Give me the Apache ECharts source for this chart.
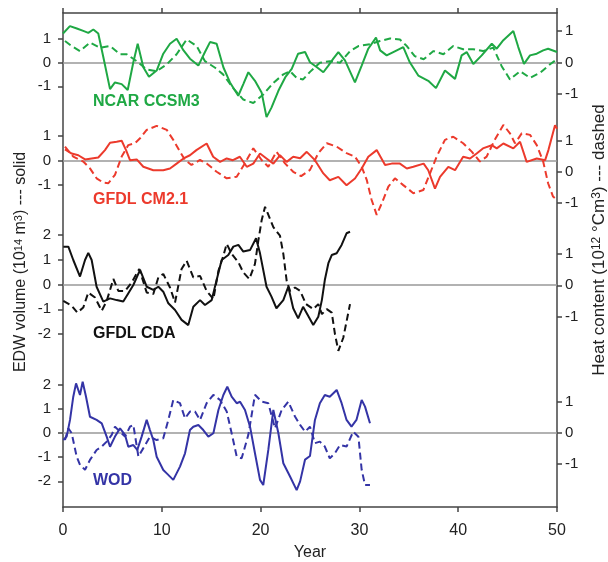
<!DOCTYPE html>
<html>
<head>
<meta charset="utf-8">
<script src="https://cdn.jsdelivr.net/npm/echarts@6/dist/echarts.min.js"></script>
<style>
  html, body { margin: 0; padding: 0; background: #fff; }
  #chart { width: 608px; height: 562px; }
</style>
</head>
<body>
<div id="chart"></div>
<script>
// year ticks on the shared x axis
const yearTicks = [0, 10, 20, 30, 40, 50];

// EDW volume (solid, left axes) and heat content (dashed, right axes): [year, value]
const ncarSolid = [[0,1.22],[0.7,1.53],[1.4,1.43],[2.05,1.33],[2.56,1.25],[3.07,1.39],[3.57,1.22],[4.08,0.23],[4.76,-1.12],[5.26,-0.84],[5.94,-0.91],[6.55,-1.16],[7.12,0.01],[7.56,0.79],[8.13,-0.2],[8.7,-0.6],[9.48,-0.34],[10.15,0.37],[10.83,0.79],[11.5,1.0],[12.2,0.51],[12.85,0.16],[13.7,-0.13],[14.37,0.44],[14.88,0.86],[15.55,0.79],[16.23,-0.2],[16.9,-0.84],[17.74,-1.4],[18.25,-0.91],[18.76,-0.41],[19.43,-0.77],[20.1,-1.26],[20.6,-2.3],[21.1,-1.9],[21.8,-1.19],[22.5,-0.62],[23.15,-0.27],[23.8,0.37],[24.5,0.44],[25.0,0.01],[25.7,-0.2],[26.35,-0.41],[26.86,-0.13],[27.36,0.16],[27.87,0.44],[28.54,0.09],[29.55,-0.84],[30.23,-0.13],[30.9,0.58],[31.68,1.05],[32.1,0.51],[32.76,0.3],[33.43,0.44],[34.44,0.65],[35.1,0.01],[35.96,-0.55],[36.97,-0.77],[37.75,-1.08],[38.66,-0.34],[39.68,-0.69],[40.35,0.3],[40.86,0.44],[41.53,-0.06],[42.38,0.3],[43.4,0.79],[43.9,0.58],[44.57,0.94],[45.58,1.33],[46.08,0.65],[46.66,-0.06],[47.27,0.3],[47.95,0.37],[48.6,0.51],[49.1,0.58],[50,0.44]];
const ncarDashed = [[0.2,0.68],[0.88,0.52],[1.72,0.36],[2.73,0.63],[3.74,0.47],[4.76,0.52],[5.77,0.26],[6.45,0.26],[7.46,0.04],[8.47,-0.22],[9.48,-0.28],[10.5,-0.06],[11.5,0.26],[12.52,0.73],[13.53,0.52],[14.37,0.04],[15.4,-0.17],[16.2,-0.38],[17.2,-0.81],[18.25,-1.18],[19.26,-1.29],[20.27,-1.02],[21.29,-0.65],[22.3,-0.38],[22.98,-0.28],[23.65,-0.49],[24.3,-0.54],[25.0,-0.3],[26.0,-0.01],[27.0,0.04],[28.04,-0.01],[29.05,0.36],[29.9,0.52],[31.07,0.58],[32.08,0.68],[33.1,0.76],[34.1,0.73],[34.8,0.52],[35.6,0.2],[36.5,0.1],[37.5,0.36],[38.5,0.26],[39.5,0.52],[40.5,0.42],[41.5,0.42],[42.5,0.36],[43.55,0.47],[44.4,-0.12],[45.24,-0.54],[46.26,-0.28],[47.27,-0.49],[48.28,-0.33],[49.3,-0.06],[50,0.1]];

const cm21Solid = [[0.2,0.46],[0.88,0.29],[1.55,0.22],[2.23,0.05],[2.9,0.09],[3.57,0.13],[4.25,0.43],[4.76,0.73],[5.43,0.77],[5.94,0.81],[6.38,0.43],[6.78,0.02],[7.46,0.05],[8.13,-0.25],[9.14,-0.39],[10.15,-0.39],[10.83,-0.32],[11.5,-0.12],[12.2,0.09],[12.85,0.22],[13.5,0.43],[14.54,0.7],[15.2,0.16],[15.9,-0.05],[16.57,0.09],[17.2,0.02],[17.9,0.16],[18.6,-0.25],[19.26,-0.12],[19.94,0.29],[20.6,0.09],[21.29,-0.12],[21.96,0.22],[22.64,-0.05],[23.3,0.16],[24.0,0.1],[24.67,0.36],[25.5,0.02],[26.35,-0.52],[27.0,-0.8],[27.87,-0.66],[28.7,-1.0],[29.55,-0.73],[30.23,-0.32],[30.9,0.16],[31.75,0.43],[32.6,-0.18],[33.27,-0.12],[34.1,-0.12],[34.8,-0.32],[35.46,-0.25],[36.5,-0.12],[36.97,-0.39],[37.65,-1.14],[38.16,-0.66],[39.0,-0.25],[39.68,-0.39],[40.5,0.16],[41.2,0.09],[41.87,0.29],[42.5,0.5],[43.4,0.63],[43.9,0.5],[44.57,0.7],[45.58,0.5],[46.26,0.77],[46.93,-0.05],[47.95,0.09],[48.8,0.02],[49.13,0.43],[49.8,1.44],[50,1.3]];
const cm21Dashed = [[0.2,0.8],[1.04,0.48],[2.05,0.32],[2.73,0.1],[3.4,-0.22],[4.08,-0.36],[4.59,-0.38],[5.26,-0.11],[5.94,0.48],[6.61,0.85],[7.29,0.91],[7.8,1.07],[8.47,1.34],[9.48,1.47],[10.5,1.34],[11.16,1.02],[11.84,0.64],[12.35,0.37],[13.0,0.21],[13.87,0.37],[14.54,0.26],[15.55,-0.01],[16.57,-0.22],[17.58,-0.17],[18.4,0.26],[19.26,0.75],[20.1,0.37],[20.78,0.15],[21.6,0.64],[22.47,0.26],[23.3,-0.01],[24.1,-0.15],[25.0,0.05],[25.84,0.59],[26.7,0.91],[27.7,0.8],[28.7,0.59],[29.55,0.48],[30.23,0.15],[30.74,-0.27],[31.24,-0.92],[31.75,-1.4],[32.26,-1.03],[32.93,-0.49],[33.6,-0.22],[34.44,-0.44],[35.46,-0.7],[36.47,-0.6],[37.15,-0.06],[37.82,0.48],[38.66,1.02],[39.5,1.12],[40.5,0.91],[41.37,0.64],[42.2,0.32],[42.88,0.48],[43.7,1.02],[44.57,1.5],[45.24,1.23],[45.75,0.91],[46.43,1.23],[47.27,1.18],[47.95,0.85],[48.6,0.32],[49.1,-0.38],[49.6,-0.81],[50,-0.92]];

const cdaSolid = [[0.03,1.53],[0.54,1.53],[1.04,0.99],[1.72,0.32],[2.23,0.99],[2.56,1.28],[2.9,0.99],[3.4,-0.09],[4.08,-0.69],[4.76,-0.56],[5.43,-0.63],[6.1,-0.69],[6.6,-0.36],[7.12,-0.02],[7.8,0.59],[8.47,-0.09],[9.14,-0.22],[9.65,-0.09],[10.15,-0.29],[10.66,-0.76],[11.34,-1.03],[12.0,-1.43],[12.68,-1.64],[13.19,-0.9],[13.87,-0.63],[14.37,-0.83],[15.05,-0.63],[15.55,0.18],[16.06,0.99],[16.73,1.19],[17.24,1.53],[17.75,1.6],[18.25,1.33],[18.93,1.39],[19.54,1.87],[19.94,1.26],[20.6,-0.09],[21.1,-0.49],[21.6,-0.96],[22.3,-0.63],[22.8,-0.09],[23.3,-0.96],[23.8,-1.37],[24.3,-0.9],[24.67,-1.16],[25.33,-1.64],[25.84,-1.3],[26.2,-0.63],[26.5,0.18],[26.86,0.86],[27.2,1.19],[27.7,1.26],[28.2,1.6],[28.7,2.07],[29.05,2.13]];
const cdaDashed = [[0.03,-0.5],[0.88,-0.65],[1.45,-0.87],[2.05,-0.71],[2.56,-0.23],[3.24,-0.39],[3.92,-0.81],[4.42,-0.5],[5.1,0.2],[5.6,-0.18],[6.28,-0.18],[6.95,0.09],[7.72,0.52],[8.47,-0.23],[9.14,-0.28],[9.65,0.25],[10.15,0.36],[10.83,-0.07],[11.34,-0.55],[12.0,0.52],[12.52,0.78],[13.19,0.25],[13.87,0.3],[14.54,-0.18],[15.22,-0.44],[15.73,0.46],[16.23,0.94],[16.57,1.32],[17.07,1.0],[17.75,0.73],[18.25,0.41],[18.86,0.2],[19.43,0.68],[19.77,1.42],[20.1,2.06],[20.45,2.5],[21.29,1.85],[21.96,1.58],[22.3,1.0],[22.64,0.14],[22.98,-0.18],[23.48,-0.07],[24.0,-0.18],[24.6,-0.6],[25.33,-0.76],[25.84,-0.6],[26.2,-0.92],[26.7,-0.76],[27.2,-0.87],[27.53,-1.56],[27.87,-2.09],[28.37,-1.67],[29.05,-0.6]];

const wodSolid = [[0.03,-0.29],[0.37,-0.15],[0.71,0.54],[1.04,1.5],[1.32,2.05],[1.72,1.57],[1.99,2.12],[2.33,1.5],[2.73,0.67],[3.4,0.54],[3.92,0.4],[4.42,-0.15],[4.76,-0.57],[5.26,-0.15],[5.77,0.19],[6.28,-0.08],[6.61,-0.57],[7.12,-0.5],[7.52,-0.7],[7.96,-0.15],[8.47,0.54],[8.8,0.12],[9.14,-0.29],[9.48,-0.98],[10.15,-1.53],[10.5,-1.67],[11.16,-1.94],[11.84,-1.39],[12.35,-0.84],[12.85,0.12],[13.19,0.26],[13.7,0.33],[14.2,0.12],[14.71,-0.15],[15.22,-0.01],[15.73,0.95],[16.23,1.57],[16.63,1.91],[17.07,1.5],[17.58,1.23],[17.92,1.29],[18.42,0.95],[18.93,0.26],[19.43,-0.84],[19.94,-1.94],[20.27,-2.15],[20.78,-0.7],[21.29,0.95],[21.8,-0.01],[22.3,-1.25],[22.98,-1.8],[23.65,-2.36],[24.0,-2.0],[24.5,-1.1],[25.0,-0.95],[25.5,0.54],[26.0,1.23],[26.5,1.57],[27.0,1.5],[27.7,1.78],[28.2,1.23],[28.7,0.54],[29.2,0.26],[29.7,0.54],[30.23,1.36],[30.57,1.09],[31.07,0.4]];
const wodDashed = [[0.2,-0.23],[0.54,0.15],[0.88,-0.01],[1.38,-0.76],[1.72,-1.03],[2.23,-1.19],[2.73,-0.87],[3.4,-0.55],[3.92,-0.44],[4.42,-0.28],[4.93,-0.06],[5.26,0.2],[5.77,0.04],[6.28,-0.12],[6.78,0.2],[7.12,0.26],[7.63,-0.76],[8.13,-0.49],[8.8,-0.12],[9.48,-0.23],[10.15,-0.17],[10.66,0.42],[11.16,1.06],[11.84,0.96],[12.35,0.47],[12.85,0.69],[13.36,0.69],[13.87,0.42],[14.54,0.96],[15.22,1.23],[15.9,1.06],[16.57,0.69],[17.07,-0.01],[17.58,-0.76],[18.08,-0.82],[18.76,-0.06],[19.43,1.23],[20.1,1.01],[20.78,0.96],[21.46,0.15],[22.13,0.74],[22.8,1.01],[23.48,0.53],[24.0,0.26],[24.5,0.04],[25.0,0.2],[25.5,-0.33],[26.0,-0.28],[26.5,-0.44],[27.0,-0.82],[27.53,-0.65],[28.04,-0.39],[28.7,-0.44],[29.37,0.04],[29.9,-0.12],[30.23,-1.19],[30.57,-1.68],[31.07,-1.68]];

// tick labels of each panel
const ticks1 = [-1, 0, 1];
const ticks2 = [-2, -1, 0, 1, 2];

const FONT = "'Liberation Sans', Arial, Helvetica, sans-serif";
const AXIS_COLOR = "#444";
const GRID = { left: 63, right: 51, top: 13, bottom: 55, outerBoundsMode: "none", containLabel: false };

// layout: axis ranges put each panel's zero where it sits in the figure
const panels = [
  { name: "NCAR CCSM3", color: "#1fa844", solid: ncarSolid, dashed: ncarDashed,
    left: [-18.72, 2.085], right: [-14.13, 1.571], leftTicks: ticks1, rightTicks: ticks1, labelY: 102 },
  { name: "GFDL CM2.1", color: "#ec3a2c", solid: cm21Solid, dashed: cm21Dashed,
    left: [-14.12, 6.02], right: [-10.82, 5.11], leftTicks: ticks1, rightTicks: ticks1, labelY: 200 },
  { name: "GFDL CDA", color: "#111111", solid: cdaSolid, dashed: cdaDashed,
    left: [-8.99, 10.97], right: [-7.06, 8.67], leftTicks: ticks2, rightTicks: ticks1, labelY: 334 },
  { name: "WOD", color: "#3434a6", solid: wodSolid, dashed: wodDashed,
    left: [-3.06, 17.36], right: [-2.39, 13.55], leftTicks: ticks2, rightTicks: ticks1, labelY: 481 },
];

function panelYAxis(gridIndex, position, range, values) {
  return {
    type: "value",
    gridIndex,
    position,
    min: range[0],
    max: range[1],
    axisLine: { show: false, onZero: false },
    axisTick: {
      show: true,
      inside: false,
      length: 5,
      customValues: values,
      lineStyle: { color: AXIS_COLOR, width: 1.5 },
    },
    axisLabel: {
      customValues: values,
      margin: position === "left" ? 12 : 8,
      fontSize: 15,
      color: "#222",
      fontFamily: FONT,
    },
    splitLine: { show: false },
  };
}

function frameLine() {
  return { show: true, onZero: false, lineStyle: { color: AXIS_COLOR, width: 1.5 } };
}

const grids = [GRID];
const xAxes = [
  {
    type: "value", gridIndex: 0, position: "bottom", min: 0, max: 50, interval: 10,
    axisLine: frameLine(),
    axisTick: { inside: false, length: 5, lineStyle: { color: AXIS_COLOR, width: 1.5 } },
    axisLabel: {
      margin: 16, fontSize: 16, color: "#222", fontFamily: FONT,
      formatter: (v) => (yearTicks.includes(v) ? String(v) : ""),
    },
    splitLine: { show: false },
    name: "Year", nameLocation: "middle", nameGap: 38,
    nameTextStyle: { fontSize: 16, color: "#222", fontFamily: FONT },
  },
  {
    type: "value", gridIndex: 0, position: "top", min: 0, max: 50, interval: 10,
    axisLine: frameLine(),
    axisTick: { inside: false, length: 5, lineStyle: { color: AXIS_COLOR, width: 1.5 } },
    axisLabel: { show: false },
    splitLine: { show: false },
  },
];
const yAxes = [
  {
    type: "value", gridIndex: 0, position: "left", min: 0, max: 1,
    axisLine: frameLine(),
    axisTick: { show: false }, axisLabel: { show: false }, splitLine: { show: false },
  },
  {
    type: "value", gridIndex: 0, position: "right", min: 0, max: 1,
    axisLine: frameLine(),
    axisTick: { show: false }, axisLabel: { show: false }, splitLine: { show: false },
  },
];
const series = [];
const labels = [];

panels.forEach((p, i) => {
  const g = i + 1;
  grids.push(GRID);
  xAxes.push({ type: "value", gridIndex: g, min: 0, max: 50, show: false });
  yAxes.push(panelYAxis(g, "left", p.left, p.leftTicks));
  yAxes.push(panelYAxis(g, "right", p.right, p.rightTicks));
  const xi = xAxes.length - 1;
  const yl = yAxes.length - 2;

  series.push({
    type: "line",
    xAxisIndex: xi,
    yAxisIndex: yl,
    data: p.solid,
    symbol: "none",
    clip: false,
    lineStyle: { color: p.color, width: 2 },
    z: 4,
    markLine: {
      silent: true,
      symbol: ["none", "none"],
      label: { show: false },
      lineStyle: { color: "#999", type: "solid", width: 1.5 },
      data: [{ yAxis: 0 }],
      z: 1,
    },
  });
  series.push({
    type: "line",
    xAxisIndex: xi,
    yAxisIndex: yl + 1,
    data: p.dashed,
    symbol: "none",
    clip: false,
    lineStyle: { color: p.color, width: 2, type: [7, 4] },
    z: 3,
  });

  labels.push({
    type: "text",
    x: 93,
    y: p.labelY,
    style: {
      text: p.name,
      fill: p.color,
      fontSize: 16,
      fontWeight: "bold",
      fontFamily: FONT,
      align: "left",
      verticalAlign: "middle",
    },
  });
});

function titleRich(size) {
  return {
    n: { fontSize: size, fontFamily: FONT, fill: "#222" },
    s: { fontSize: Math.round(size * 0.68), fontFamily: FONT, fill: "#222", verticalAlign: "top" },
  };
}

labels.push({
  type: "text",
  x: 21,
  y: 262,
  rotation: Math.PI / 2,
  style: {
    text: "{n|EDW volume (10}{s|14}{n| m}{s|3}{n|) --- solid}",
    rich: titleRich(16),
    align: "center",
    verticalAlign: "middle",
  },
});
labels.push({
  type: "text",
  x: 599,
  y: 240,
  rotation: Math.PI / 2,
  style: {
    text: "{n|Heat content (10}{s|12}{n| °Cm}{s|3}{n|) --- dashed}",
    rich: titleRich(17),
    align: "center",
    verticalAlign: "middle",
  },
});

const chart = echarts.init(document.getElementById("chart"), null, { renderer: "canvas" });
chart.setOption({
  animation: false,
  backgroundColor: "#fff",
  grid: grids,
  xAxis: xAxes,
  yAxis: yAxes,
  series,
  graphic: labels,
});
</script>
</body>
</html>
